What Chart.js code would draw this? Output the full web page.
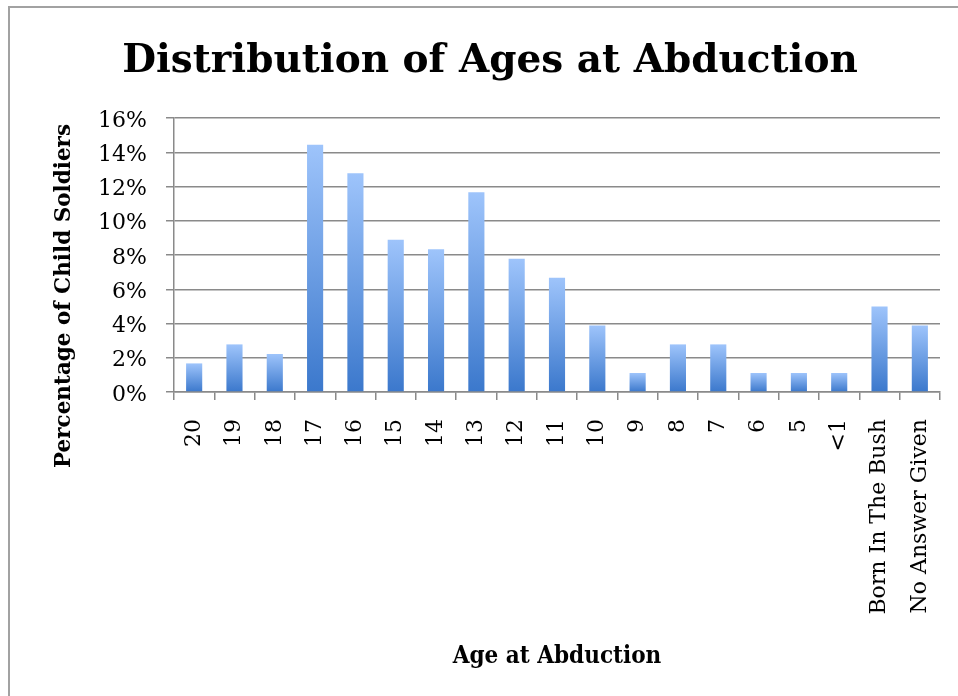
<!DOCTYPE html>
<html lang="en">
<head>
  <meta charset="UTF-8">
  <title>Distribution of Ages at Abduction</title>
  <script src="https://cdn.jsdelivr.net/npm/chart.js@4.4.1/dist/chart.umd.min.js"></script>
  <style>
    body {
      margin: 0;
      background: #fff;
      overflow: hidden;
    }
    .frame {
      position: absolute;
      left: 8px;
      top: 6px;
      width: 1000px;
      height: 800px;
      border-left: 2px solid #a2a2a2;
      border-top: 2px solid #a2a2a2;
    }
    .wrap {
      position: absolute;
      left: 0;
      top: 0;
      width: 958px;
      height: 696px;
    }
  </style>
</head>
<body>
  <div class="frame"></div>
  <div class="wrap"><canvas id="grafico"></canvas></div>
  <script>
    const ages = ['20', '19', '18', '17', '16', '15', '14', '13', '12', '11', '10',
                  '9', '8', '7', '6', '5', '<1', 'Born In The Bush', 'No Answer Given'];
    const percents = [1.67, 2.78, 2.22, 14.44, 12.78, 8.89, 8.33, 11.67, 7.78, 6.67, 3.89,
                      1.11, 2.78, 2.78, 1.11, 1.11, 1.11, 5.0, 3.89];
    const yTicks = [0, 2, 4, 6, 8, 10, 12, 14, 16];

    const gris = '#8a8a8a';
    const serif = '"DejaVu Serif", serif';

    // vertical title, Excel puts it a bit lower than the axis centre
    const tituloY = {
      id: 'tituloY',
      afterDraw(chart) {
        const ctx = chart.ctx;
        ctx.save();
        ctx.translate(64, 296);
        ctx.rotate(-Math.PI / 2);
        ctx.font = 'bold 21.5px ' + serif;
        ctx.fillStyle = '#000';
        ctx.textAlign = 'center';
        ctx.textBaseline = 'middle';
        ctx.fillText('Percentage of Child Soldiers', 0, 0);
        ctx.restore();
      }
    };

    function relleno(c) {
      const chart = c.chart;
      if (!chart.chartArea || c.type !== 'data') return '#6a9de0';
      const y = chart.scales.y;
      const top = y.getPixelForValue(c.parsed.y);
      const bot = y.getPixelForValue(0);
      const g = chart.ctx.createLinearGradient(0, top, 0, bot);
      g.addColorStop(0, '#9ec4fb');
      g.addColorStop(1, '#3b78cc');
      return g;
    }

    new Chart(document.getElementById('grafico'), {
      type: 'bar',
      data: {
        labels: ages,
        datasets: [{
          data: percents,
          backgroundColor: relleno,
          borderWidth: 0,
          barPercentage: 0.8,
          categoryPercentage: 0.5
        }]
      },
      options: {
        responsive: true,
        maintainAspectRatio: false,
        animation: false,
        layout: { padding: { left: 40, right: 18, top: 0, bottom: 0 } },
        plugins: {
          legend: { display: false },
          tooltip: { enabled: false },
          title: {
            display: true,
            text: 'Distribution of Ages at Abduction',
            color: '#000',
            font: { family: serif, size: 39, weight: 'bold', lineHeight: 1.2 },
            padding: { top: 38.6, bottom: 32.6 }
          }
        },
        scales: {
          x: {
            grid: {
              display: true,
              drawOnChartArea: false,
              drawTicks: true,
              tickLength: 8,
              color: gris,
              lineWidth: 1.5
            },
            border: { display: true, color: gris, width: 1.5 },
            ticks: {
              autoSkip: false,
              minRotation: 90,
              maxRotation: 90,
              padding: 19,
              color: '#000',
              font: { family: serif, size: 22 }
            },
            title: {
              display: true,
              text: 'Age at Abduction',
              color: '#000',
              font: { family: '"DejaVu Serif Condensed", serif', size: 24, weight: 'bold', lineHeight: 1.2 },
              padding: { top: 0, bottom: 25 }
            },
            afterFit(scale) {
              scale.height = 304;
              scale.paddingLeft = 0;
              scale.paddingRight = 0;
            }
          },
          y: {
            min: 0,
            max: 16,
            afterBuildTicks(scale) { scale.ticks = yTicks.map(v => ({ value: v })); },
            grid: {
              color: gris,
              lineWidth: 1.5,
              drawTicks: true,
              tickLength: 8
            },
            border: { display: true, color: gris, width: 1.5 },
            ticks: {
              padding: 19,
              labelOffset: 3,
              color: '#000',
              font: { family: serif, size: 22 },
              callback: v => v + '%'
            },
            afterFit(scale) { scale.width = 134; }
          }
        }
      },
      plugins: [tituloY]
    });
  </script>
</body>
</html>
